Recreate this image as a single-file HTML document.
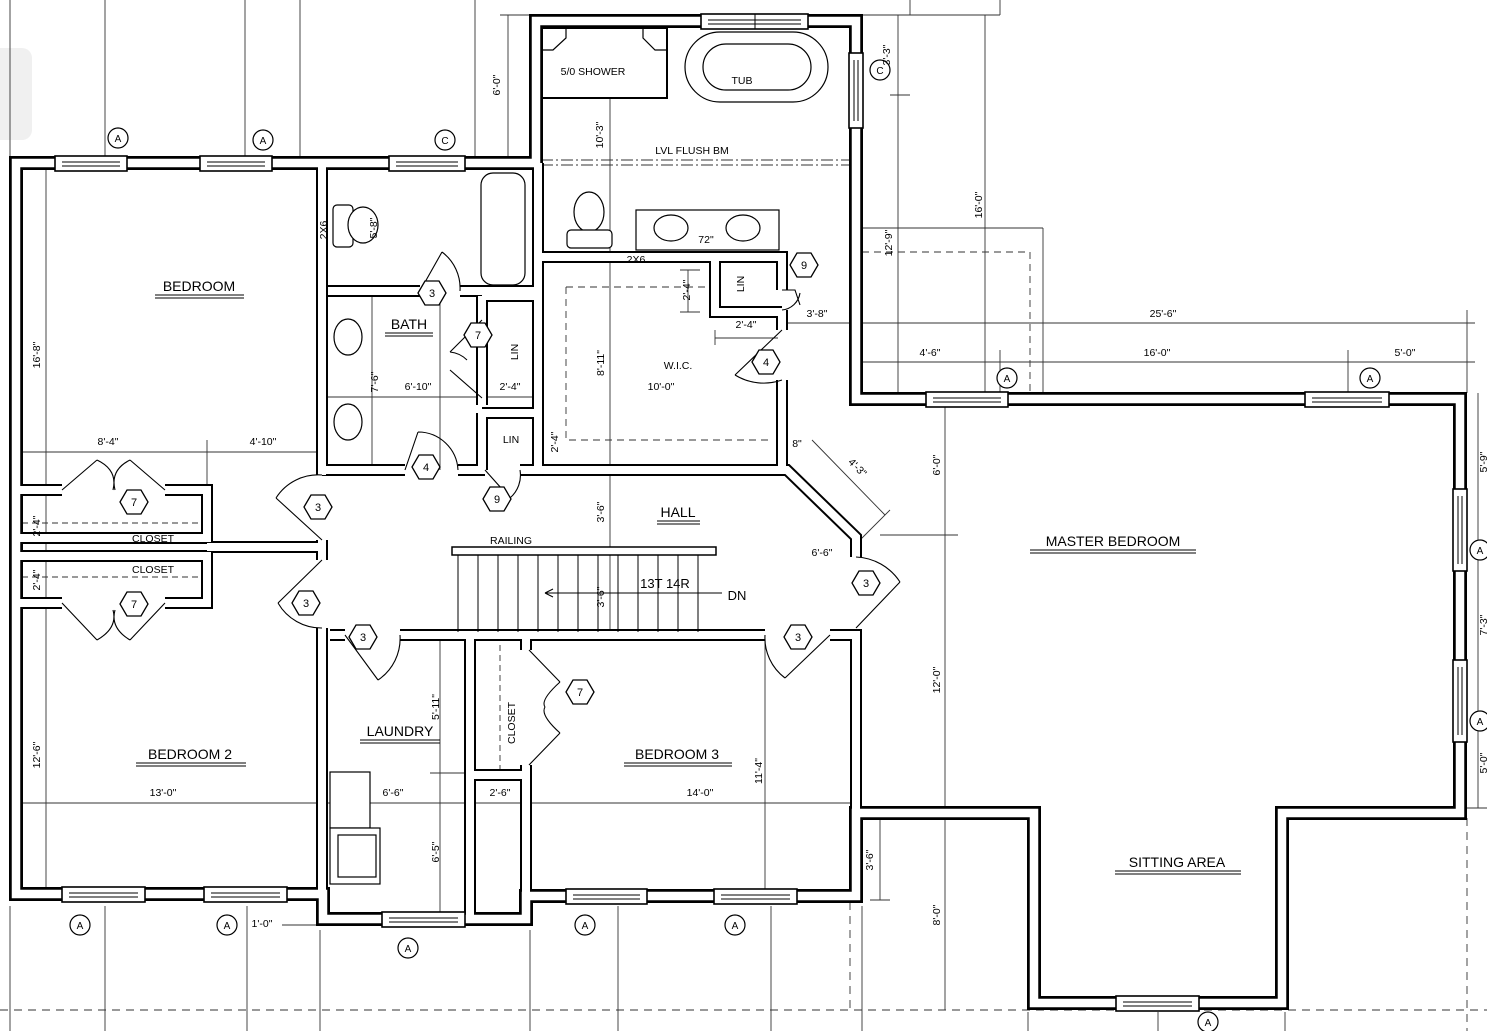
<!DOCTYPE html>
<html><head><meta charset="utf-8"><style>
html,body{margin:0;padding:0;background:#fff;}
svg{display:block;font-family:"Liberation Sans",sans-serif;}
</style></head><body>
<svg width="1487" height="1031" viewBox="0 0 1487 1031" xmlns="http://www.w3.org/2000/svg">
<defs>
  <path id="per" d="M16,894 L16,163 L536,163 L536,21 L856,21 L856,399 L1460,399 L1460,813 L1282,813 L1282,1003 L1034,1003 L1034,813 L856,813 L856,896 L526,896 L526,919 L323,919 L323,894 Z"/>
  <path id="iw" d="M322,163 L322,475 M328,291 L420,291 M460,291 L535,291 M322,470 L405,470 M458,470 L485,470 M520,470 L787,470 L856,537 L856,557 M482,296 L482,405 M482,296 L538,296 M482,413 L538,413 M482,413 L482,470 M538,163 L538,470 M538,257 L782,257 L782,290 M782,310 L782,330 M782,380 L782,470 M715,257 L715,312 L782,312 M16,490 L62,490 M165,490 L207,490 L207,538 L16,538 M16,556 L207,556 L207,603 L165,603 M62,603 L16,603 M207,547 L322,547 M322,540 L322,560 M322,628 L322,894 M330,635 L345,635 M400,635 L765,635 M830,635 L856,635 L856,813 M470,635 L470,919 M470,775 L526,775 M526,635 L526,650 M526,765 L526,896"/>
</defs>
<rect width="1487" height="1031" fill="#fff"/>
<rect x="-10" y="48" width="42" height="92" rx="10" fill="#f0f0f0"/>

<g stroke="#333" stroke-width="0.9" fill="none">
  <line x1="105" y1="0" x2="105" y2="157"/><line x1="245" y1="0" x2="245" y2="157"/>
  <line x1="300" y1="0" x2="300" y2="157"/><line x1="475" y1="0" x2="475" y2="157"/>
  <line x1="10" y1="0" x2="10" y2="157"/>
  <line x1="500" y1="15" x2="530" y2="15"/><line x1="508" y1="15" x2="508" y2="157"/>
  <line x1="862" y1="15" x2="1000" y2="15"/><line x1="910" y1="0" x2="910" y2="15"/><line x1="1000" y1="0" x2="1000" y2="15"/>
  <line x1="985" y1="15" x2="985" y2="393"/><line x1="898" y1="15" x2="898" y2="95"/>
  <line x1="890" y1="95" x2="910" y2="95"/><line x1="898" y1="95" x2="898" y2="393"/>
  <line x1="862" y1="228" x2="1043" y2="228"/><line x1="1043" y1="228" x2="1043" y2="393"/>
  <line x1="610" y1="28" x2="610" y2="640"/>
  <line x1="688" y1="270" x2="688" y2="312"/><line x1="680" y1="270" x2="700" y2="270"/><line x1="680" y1="312" x2="700" y2="312"/>
  <line x1="715" y1="338" x2="778" y2="338"/><line x1="715" y1="330" x2="715" y2="345"/>
  <line x1="778" y1="323" x2="1475" y2="323"/><line x1="1467" y1="310" x2="1467" y2="393"/>
  <line x1="862" y1="362" x2="1475" y2="362"/><line x1="1348" y1="350" x2="1348" y2="393"/><line x1="1000" y1="350" x2="1000" y2="393"/>
  <line x1="945" y1="400" x2="945" y2="1010"/><line x1="880" y1="535" x2="958" y2="535"/>
  <line x1="1478" y1="393" x2="1478" y2="808"/><line x1="1467" y1="808" x2="1487" y2="808"/>
  <line x1="880" y1="818" x2="880" y2="900"/><line x1="870" y1="900" x2="890" y2="900"/>
  <line x1="812" y1="440" x2="885" y2="515"/><line x1="860" y1="540" x2="890" y2="510"/>
  <line x1="46" y1="157" x2="46" y2="900"/>
  <line x1="10" y1="452" x2="322" y2="452"/><line x1="207" y1="440" x2="207" y2="490"/>
  <line x1="10" y1="803" x2="862" y2="803"/>
  <line x1="322" y1="397" x2="535" y2="397"/>
  <line x1="372" y1="290" x2="372" y2="470"/><line x1="440" y1="290" x2="440" y2="470"/>
  <line x1="765" y1="640" x2="765" y2="890"/>
  <line x1="440" y1="640" x2="440" y2="920"/><line x1="430" y1="773" x2="520" y2="773"/>
  <line x1="10" y1="906" x2="10" y2="1031"/><line x1="105" y1="906" x2="105" y2="1031"/>
  <line x1="247" y1="906" x2="247" y2="1031"/><line x1="320" y1="930" x2="320" y2="1031"/>
  <line x1="530" y1="930" x2="530" y2="1031"/><line x1="618" y1="906" x2="618" y2="1031"/>
  <line x1="771" y1="906" x2="771" y2="1031"/><line x1="862" y1="906" x2="862" y2="1031"/>
  <line x1="1158" y1="1012" x2="1158" y2="1031"/>
  <line x1="1028" y1="1012" x2="1028" y2="1031"/><line x1="1285" y1="1012" x2="1285" y2="1031"/>
  <line x1="282" y1="925" x2="320" y2="925"/>
  <line x1="0" y1="1010" x2="1487" y2="1010" stroke-dasharray="8,6"/>
  <line x1="1467" y1="818" x2="1467" y2="1031" stroke-dasharray="8,6"/>
  <line x1="850" y1="818" x2="850" y2="1010" stroke-dasharray="8,6"/>
  <path d="M862,252 L1030,252 L1030,393" stroke-dasharray="7,5"/>
  <path d="M566,287 L715,287 M566,287 L566,440 L770,440" stroke-dasharray="7,5"/>
  <line x1="22" y1="523" x2="203" y2="523" stroke-dasharray="6,4"/>
  <line x1="22" y1="577" x2="203" y2="577" stroke-dasharray="6,4"/>
  <line x1="500" y1="645" x2="500" y2="770" stroke-dasharray="6,4"/>
  <line x1="541" y1="160" x2="850" y2="160" stroke-dasharray="12,3,2,3"/>
  <line x1="541" y1="165" x2="850" y2="165" stroke-dasharray="12,3,2,3"/>
</g>

<!-- walls: black thick then white core -->
<g fill="none" stroke-linejoin="miter" stroke-linecap="butt">
  <use href="#per" stroke="#000" stroke-width="14"/>
  <use href="#iw" stroke="#000" stroke-width="12"/>
  <use href="#per" stroke="#fff" stroke-width="8.5"/>
  <use href="#iw" stroke="#fff" stroke-width="8"/>
</g>

<g fill="#fff" stroke="#000" stroke-width="1.6">
  <rect x="55" y="156" width="72" height="15"/><rect x="200" y="156" width="72" height="15"/><rect x="389" y="156" width="76" height="15"/>
  <rect x="701" y="14" width="107" height="15"/>
  <rect x="849" y="53" width="14" height="75"/>
  <rect x="926" y="392" width="82" height="15"/><rect x="1305" y="392" width="84" height="15"/>
  <rect x="1453" y="489" width="14" height="82"/><rect x="1453" y="660" width="14" height="82"/>
  <rect x="1116" y="996" width="83" height="15"/>
  <rect x="566" y="889" width="81" height="15"/><rect x="714" y="889" width="83" height="15"/>
  <rect x="382" y="912" width="83" height="15"/>
  <rect x="62" y="887" width="83" height="15"/><rect x="204" y="887" width="83" height="15"/>
</g>
<g stroke="#000" stroke-width="1" fill="none">
  <path d="M62,162 H120 M62,166 H120 M207,162 H265 M207,166 H265 M396,162 H458 M396,166 H458 M708,20 H801 M708,24 H801 M755,14 V29 M854,60 V121 M858,60 V121 M933,398 H1001 M933,402 H1001 M1312,398 H1382 M1312,402 H1382 M1458,496 V564 M1462,496 V564 M1458,667 V735 M1462,667 V735 M1123,1002 H1192 M1123,1006 H1192 M573,895 H640 M573,899 H640 M721,895 H790 M721,899 H790 M389,918 H458 M389,922 H458 M69,893 H138 M69,897 H138 M211,893 H280 M211,897 H280"/>
</g>

<g stroke="#000" stroke-width="1.2" fill="#fff">
  <rect x="542" y="28" width="125" height="70" stroke-width="2"/>
  <path d="M542,50 L553,50 L566,38 L566,28 M667,50 L655,50 L643,38 L643,28" fill="none"/>
  <rect x="685" y="32" width="143" height="70" rx="35"/>
  <rect x="703" y="44" width="108" height="46" rx="23"/>
  <rect x="636" y="210" width="143" height="40"/>
  <ellipse cx="671" cy="228" rx="17" ry="13"/><ellipse cx="743" cy="228" rx="17" ry="13"/>
  <ellipse cx="589" cy="212" rx="15" ry="20"/><rect x="567" y="230" width="45" height="18" rx="4"/>
  <rect x="481" y="173" width="44" height="112" rx="12"/>
  <rect x="333" y="205" width="20" height="42" rx="4"/><ellipse cx="363" cy="225" rx="15" ry="18"/>
  <ellipse cx="348" cy="337" rx="14" ry="18"/><ellipse cx="348" cy="422" rx="14" ry="18"/>
  <rect x="330" y="772" width="40" height="56"/><rect x="330" y="828" width="50" height="56"/>
  <rect x="338" y="835" width="38" height="42"/>
</g>

<g stroke="#000" fill="none" stroke-width="1">
  <rect x="452" y="547" width="264" height="8" fill="#fff" stroke-width="1.5"/>
  <path d="M458,555 V632 M478,555 V632 M498,555 V632 M518,555 V632 M538,555 V632 M558,555 V632 M578,555 V632 M598,555 V632 M618,555 V632 M638,555 V632 M658,555 V632 M678,555 V632 M698,555 V632"/>
  <path d="M545,593 H722 M545,593 l8,-4 M545,593 l8,4"/>
</g>

<g stroke="#000" stroke-width="1.1" fill="none">
  <path d="M420,291 L442,252 M442,252 A45,45 0 0 1 460,291"/>
  <path d="M482,320 L450,352 M482,398 L450,370 M450,352 A28,28 0 0 1 467,360"/>
  <path d="M405,470 L418,432 M418,432 A40,40 0 0 1 458,470"/>
  <path d="M485,470 L510,498 M510,498 A30,30 0 0 0 520,470"/>
  <path d="M62,490 L97,460 M165,490 L130,460 M97,460 Q118,470 113,490 M130,460 Q110,470 115,490"/>
  <path d="M62,603 L97,640 M165,603 L130,640 M97,640 Q118,628 113,610 M130,640 Q110,628 115,610"/>
  <path d="M322,540 L276,498 M276,498 A50,50 0 0 1 322,475"/>
  <path d="M322,560 L278,603 M278,603 A50,50 0 0 0 322,628"/>
  <path d="M345,635 L378,680 M378,680 A50,50 0 0 0 400,635"/>
  <path d="M830,635 L785,678 M785,678 A50,50 0 0 1 765,635"/>
  <path d="M856,628 L900,582 M900,582 A55,55 0 0 0 856,557"/>
  <path d="M529,650 L560,682 M529,765 L560,733 M560,682 Q540,700 545,707 M560,733 Q540,715 545,707"/>
  <path d="M782,290 L795,290 L800,305 M782,310 A20,20 0 0 0 800,293"/>
  <path d="M782,330 L735,375 M735,375 A55,55 0 0 0 782,380"/>
</g>

<g stroke="#000" stroke-width="1.3" fill="#fff" font-size="11" text-anchor="middle">
  <g transform="translate(432,293)"><polygon points="-14,0 -7,-12 7,-12 14,0 7,12 -7,12"/><text y="4" stroke="none" fill="#000">3</text></g>
  <g transform="translate(478,335)"><polygon points="-14,0 -7,-12 7,-12 14,0 7,12 -7,12"/><text y="4" stroke="none" fill="#000">7</text></g>
  <g transform="translate(426,467)"><polygon points="-14,0 -7,-12 7,-12 14,0 7,12 -7,12"/><text y="4" stroke="none" fill="#000">4</text></g>
  <g transform="translate(497,499)"><polygon points="-14,0 -7,-12 7,-12 14,0 7,12 -7,12"/><text y="4" stroke="none" fill="#000">9</text></g>
  <g transform="translate(318,507)"><polygon points="-14,0 -7,-12 7,-12 14,0 7,12 -7,12"/><text y="4" stroke="none" fill="#000">3</text></g>
  <g transform="translate(306,603)"><polygon points="-14,0 -7,-12 7,-12 14,0 7,12 -7,12"/><text y="4" stroke="none" fill="#000">3</text></g>
  <g transform="translate(134,502)"><polygon points="-14,0 -7,-12 7,-12 14,0 7,12 -7,12"/><text y="4" stroke="none" fill="#000">7</text></g>
  <g transform="translate(134,604)"><polygon points="-14,0 -7,-12 7,-12 14,0 7,12 -7,12"/><text y="4" stroke="none" fill="#000">7</text></g>
  <g transform="translate(363,637)"><polygon points="-14,0 -7,-12 7,-12 14,0 7,12 -7,12"/><text y="4" stroke="none" fill="#000">3</text></g>
  <g transform="translate(798,637)"><polygon points="-14,0 -7,-12 7,-12 14,0 7,12 -7,12"/><text y="4" stroke="none" fill="#000">3</text></g>
  <g transform="translate(866,583)"><polygon points="-14,0 -7,-12 7,-12 14,0 7,12 -7,12"/><text y="4" stroke="none" fill="#000">3</text></g>
  <g transform="translate(580,692)"><polygon points="-14,0 -7,-12 7,-12 14,0 7,12 -7,12"/><text y="4" stroke="none" fill="#000">7</text></g>
  <g transform="translate(804,265)"><polygon points="-14,0 -7,-12 7,-12 14,0 7,12 -7,12"/><text y="4" stroke="none" fill="#000">9</text></g>
  <g transform="translate(766,362)"><polygon points="-14,0 -7,-12 7,-12 14,0 7,12 -7,12"/><text y="4" stroke="none" fill="#000">4</text></g>
</g>

<g stroke="#000" stroke-width="1.2" fill="#fff" font-size="10" text-anchor="middle">
  <g transform="translate(118,138)"><circle r="10"/><text y="4" stroke="none" fill="#000">A</text></g>
  <g transform="translate(263,140)"><circle r="10"/><text y="4" stroke="none" fill="#000">A</text></g>
  <g transform="translate(445,140)"><circle r="10"/><text y="4" stroke="none" fill="#000">C</text></g>
  <g transform="translate(80,925)"><circle r="10"/><text y="4" stroke="none" fill="#000">A</text></g>
  <g transform="translate(227,925)"><circle r="10"/><text y="4" stroke="none" fill="#000">A</text></g>
  <g transform="translate(408,948)"><circle r="10"/><text y="4" stroke="none" fill="#000">A</text></g>
  <g transform="translate(585,925)"><circle r="10"/><text y="4" stroke="none" fill="#000">A</text></g>
  <g transform="translate(735,925)"><circle r="10"/><text y="4" stroke="none" fill="#000">A</text></g>
  <g transform="translate(1007,378)"><circle r="10"/><text y="4" stroke="none" fill="#000">A</text></g>
  <g transform="translate(1370,378)"><circle r="10"/><text y="4" stroke="none" fill="#000">A</text></g>
  <g transform="translate(1480,550)"><circle r="10"/><text y="4" stroke="none" fill="#000">A</text></g>
  <g transform="translate(1480,721)"><circle r="10"/><text y="4" stroke="none" fill="#000">A</text></g>
  <g transform="translate(1208,1022)"><circle r="10"/><text y="4" stroke="none" fill="#000">A</text></g>
  <g transform="translate(880,70)"><circle r="10"/><text y="4" stroke="none" fill="#000">C</text></g>
</g>

<g font-size="14" fill="#000" text-anchor="middle">
  <text x="199" y="291">BEDROOM</text>
  <text x="409" y="329">BATH</text>
  <text x="190" y="759">BEDROOM 2</text>
  <text x="400" y="736">LAUNDRY</text>
  <text x="677" y="759">BEDROOM 3</text>
  <text x="678" y="517">HALL</text>
  <text x="1113" y="546">MASTER BEDROOM</text>
  <text x="1177" y="867">SITTING AREA</text>
</g>
<g stroke="#000" stroke-width="1">
  <path d="M155,295 H244 M155,298 H244 M385,333 H433 M385,336 H433 M136,763 H246 M136,766 H246 M360,740 H440 M360,743 H440 M624,763 H732 M624,766 H732 M657,521 H700 M657,524 H700 M1030,550 H1196 M1030,553 H1196 M1115,871 H1241 M1115,874 H1241"/>
</g>

<g font-size="10.5" fill="#000" text-anchor="middle">
  <text x="593" y="75">5/0 SHOWER</text>
  <text x="742" y="84">TUB</text>
  <text x="692" y="154">LVL FLUSH BM</text>
  <text x="706" y="243">72"</text>
  <text x="636" y="263">2X6</text>
  <text x="678" y="369">W.I.C.</text>
  <text x="661" y="390">10'-0"</text>
  <text x="511" y="443">LIN</text>
  <text x="153" y="542">CLOSET</text>
  <text x="153" y="573">CLOSET</text>
  <text x="511" y="544">RAILING</text>
  <text x="665" y="588" font-size="13">13T 14R</text>
  <text x="737" y="600" font-size="13">DN</text>
  <text x="108" y="445">8'-4"</text>
  <text x="263" y="445">4'-10"</text>
  <text x="418" y="390">6'-10"</text>
  <text x="510" y="390">2'-4"</text>
  <text x="163" y="796">13'-0"</text>
  <text x="393" y="796">6'-6"</text>
  <text x="500" y="796">2'-6"</text>
  <text x="700" y="796">14'-0"</text>
  <text x="262" y="927">1'-0"</text>
  <text x="746" y="328">2'-4"</text>
  <text x="817" y="317">3'-8"</text>
  <text x="1163" y="317">25'-6"</text>
  <text x="930" y="356">4'-6"</text>
  <text x="1157" y="356">16'-0"</text>
  <text x="1405" y="356">5'-0"</text>
  <text x="822" y="556">6'-6"</text>
  <text x="797" y="447">8"</text>
</g>
<g font-size="10.5" fill="#000" text-anchor="middle">
  <text transform="translate(40,355) rotate(-90)">16'-8"</text>
  <text transform="translate(40,755) rotate(-90)">12'-6"</text>
  <text transform="translate(40,526) rotate(-90)">2'-4"</text>
  <text transform="translate(40,580) rotate(-90)">2'-4"</text>
  <text transform="translate(327,230) rotate(-90)">2X6</text>
  <text transform="translate(377,228) rotate(-90)">5'-8"</text>
  <text transform="translate(378,382) rotate(-90)">7'-6"</text>
  <text transform="translate(518,352) rotate(-90)">LIN</text>
  <text transform="translate(744,284) rotate(-90)">LIN</text>
  <text transform="translate(500,85) rotate(-90)">6'-0"</text>
  <text transform="translate(603,135) rotate(-90)">10'-3"</text>
  <text transform="translate(604,363) rotate(-90)">8'-11"</text>
  <text transform="translate(604,512) rotate(-90)">3'-6"</text>
  <text transform="translate(604,597) rotate(-90)">3'-6"</text>
  <text transform="translate(690,290) rotate(-90)">2'-4"</text>
  <text transform="translate(558,442) rotate(-90)">2'-4"</text>
  <text transform="translate(439,707) rotate(-90)">5'-11"</text>
  <text transform="translate(439,852) rotate(-90)">6'-5"</text>
  <text transform="translate(515,723) rotate(-90)">CLOSET</text>
  <text transform="translate(762,771) rotate(-90)">11'-4"</text>
  <text transform="translate(982,205) rotate(-90)">16'-0"</text>
  <text transform="translate(892,243) rotate(-90)">12'-9"</text>
  <text transform="translate(890,55) rotate(-90)">3'-3"</text>
  <text transform="translate(940,465) rotate(-90)">6'-0"</text>
  <text transform="translate(940,680) rotate(-90)">12'-0"</text>
  <text transform="translate(940,915) rotate(-90)">8'-0"</text>
  <text transform="translate(873,860) rotate(-90)">3'-6"</text>
  <text transform="translate(1487,462) rotate(-90)">5'-9"</text>
  <text transform="translate(1487,625) rotate(-90)">7'-3"</text>
  <text transform="translate(1487,763) rotate(-90)">5'-0"</text>
  <text transform="translate(855,470) rotate(45)">4'-3"</text>
</g>
</svg>
</body></html>
